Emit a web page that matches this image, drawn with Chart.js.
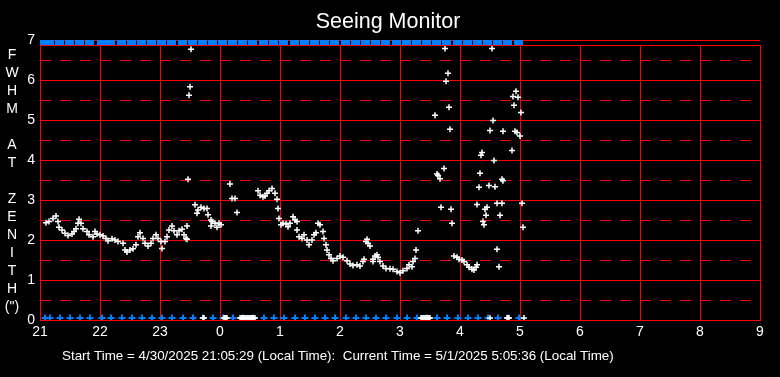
<!DOCTYPE html>
<html><head><meta charset="utf-8">
<script src="https://cdn.jsdelivr.net/npm/chart.js@4"></script>
<style>html,body{margin:0;padding:0;background:#000;overflow:hidden}</style>
</head><body>
<canvas id="c" width="780" height="377"></canvas>
<script>
const chartTitle = 'Seeing Monitor';
const yAxisLetters = ['F','W','H','M','','A','T','','Z','E','N','I','T','H','(")'];
const footerText = 'Start Time = 4/30/2025 21:05:29 (Local Time):  Current Time = 5/1/2025 5:05:36 (Local Time)';
const xTickHours = [21,22,23,24,25,26,27,28,29,30,31,32,33];
const xTickLabels = ['21','22','23','0','1','2','3','4','5','6','7','8','9'];
const yMajorTicks = [0,1,2,3,4,5,6,7];
const yMinorTicks = [0.5,1.5,2.5,3.5,4.5,5.5,6.5];

const fwhmTimes = ['21:06','21:09','21:13','21:16','21:18','21:19','21:22','21:25','21:28','21:32','21:34','21:36','21:38','21:39','21:41','21:43','21:47','21:49','21:53','21:55','21:57','22:00','22:03','22:06','22:08','22:12','22:15','22:18','22:23','22:25','22:27','22:30','22:33','22:36','22:38','22:40','22:43','22:45','22:48','22:51','22:53','22:56','22:58','23:01','23:02','23:05','23:07','23:09','23:12','23:14','23:17','23:19','23:22','23:24','23:26','23:27','23:27','23:28','23:29','23:30','23:31','23:35','23:37','23:38','23:41','23:44','23:47','23:48','23:51','23:51','23:52','23:55','23:57','23:59','00:01','00:10','00:12','00:15','00:17','00:38','00:40','00:43','00:45','00:47','00:49','00:52','00:55','00:57','00:58','00:59','01:01','01:03','01:06','01:08','01:10','01:13','01:15','01:17','01:17','01:19','01:22','01:24','01:27','01:29','01:32','01:34','01:36','01:38','01:40','01:43','01:44','01:46','01:47','01:49','01:51','01:53','01:57','02:00','02:03','02:07','02:10','02:13','02:17','02:20','02:23','02:24','02:26','02:27','02:28','02:30','02:33','02:33','02:35','02:37','02:38','02:40','02:43','02:46','02:50','02:53','02:57','03:00','03:03','03:07','03:09','03:12','03:13','03:15','03:16','03:18','03:35','03:37','03:38','03:40','03:41','03:44','03:45','03:46','03:48','03:49','03:50','03:51','03:52','03:54','03:57','03:59','04:02','04:04','04:07','04:09','04:12','04:14','04:16','04:17','04:17','04:19','04:20','04:21','04:22','04:23','04:24','04:25','04:26','04:27','04:29','04:30','04:32','04:33','04:34','04:35','04:37','04:37','04:39','04:40','04:42','04:42','04:43','04:43','04:52','04:53','04:54','04:55','04:56','04:57','04:58','05:00','05:01','05:02','05:03'];
const fwhmValues = [2.43,2.46,2.54,2.60,2.46,2.32,2.25,2.17,2.11,2.15,2.21,2.28,2.42,2.52,2.42,2.28,2.21,2.13,2.08,2.21,2.15,2.13,2.10,2.04,1.98,2.03,2.00,1.96,1.92,1.75,1.70,1.75,1.78,1.88,2.08,2.18,2.04,1.92,1.85,1.92,2.04,2.13,2.04,1.96,1.79,1.96,2.08,2.25,2.35,2.23,2.13,2.23,2.27,2.13,2.04,2.02,2.35,3.52,5.62,5.83,6.77,2.88,2.67,2.75,2.82,2.79,2.79,2.63,2.50,2.35,2.46,2.42,2.32,2.42,2.38,3.40,3.04,3.04,2.69,3.23,3.12,3.08,3.10,3.17,3.23,3.29,3.17,3.02,2.79,2.54,2.38,2.42,2.40,2.33,2.42,2.58,2.50,2.46,2.25,2.08,2.04,2.13,2.00,1.88,2.00,2.13,2.18,2.42,2.38,2.21,2.04,1.88,1.75,1.63,1.54,1.48,1.54,1.60,1.57,1.48,1.40,1.36,1.38,1.35,1.46,1.52,1.96,2.02,1.92,1.85,1.46,1.52,1.60,1.63,1.57,1.46,1.35,1.29,1.28,1.27,1.21,1.18,1.23,1.29,1.38,1.33,1.46,1.54,1.75,2.23,5.12,3.65,3.61,3.53,2.82,3.79,6.79,5.97,6.17,5.32,4.77,2.77,2.42,1.60,1.57,1.52,1.50,1.46,1.38,1.32,1.27,1.25,1.32,1.38,2.89,3.32,3.67,4.12,4.19,2.46,2.38,2.77,2.62,2.82,3.36,4.74,6.79,4.99,3.99,3.33,2.92,1.77,1.33,2.62,2.92,3.52,3.48,4.72,4.24,5.59,5.37,4.72,5.72,4.69,5.57,4.60,5.19,2.92,2.32];

const zeroTimes = ['23:43','23:44','00:04','00:05','00:06','00:07','00:20','00:21','00:22','00:23','00:24','00:25','00:26','00:27','00:28','00:29','00:30','00:31','00:32','00:33','00:34','00:35','03:21','03:22','03:23','03:24','03:25','03:26','03:27','03:28','03:29','03:30','04:30','04:47','04:48','04:49','05:04'];
const zeroValue = 0.05;

const statusTimes = ['21:05','21:10','21:20','21:30','21:40','21:50','22:02','22:11','22:22','22:32','22:42','22:52','23:02','23:12','23:23','23:33','23:43','23:53','00:03','00:13','00:23','00:33','00:44','00:54','01:04','01:15','01:25','01:35','01:45','01:55','02:06','02:16','02:26','02:36','02:46','02:57','03:07','03:17','03:27','03:37','03:47','03:58','04:08','04:18','04:28','04:38','04:48','04:59'];
const statusLowValue = 0.05;
const statusHighValue = 6.94;

function toHour(s){ const p = s.split(':').map(Number); let v = p[0] + p[1]/60; if (v < 12) v += 24; return v; }

const RED = '#ff0000', BLUE = 'rgb(0,128,255)', WHITE = '#ffffff';
const FONT = "'Liberation Sans', Arial, sans-serif";
Chart.defaults.font.family = FONT;

const barImg = document.createElement('canvas');
barImg.width = 10; barImg.height = 5;
{ const g = barImg.getContext('2d'); g.fillStyle = BLUE; g.fillRect(0,0,9,5); }

const decor = {
  id: 'decor',
  beforeDatasetsDraw(chart){
    const ctx = chart.ctx, a = chart.chartArea, ys = chart.scales.y;
    ctx.save();
    ctx.strokeStyle = RED; ctx.lineWidth = 1; ctx.setLineDash([11, 9]);
    yMinorTicks.forEach(v => {
      const y = Math.round(ys.getPixelForValue(v)) + 0.5;
      ctx.beginPath(); ctx.moveTo(a.left, y); ctx.lineTo(a.right, y); ctx.stroke();
    });
    ctx.restore();
  },
  afterDatasetsDraw(chart){
    const ctx = chart.ctx, a = chart.chartArea;
    ctx.save();
    ctx.strokeStyle = RED; ctx.lineWidth = 1;
    ctx.beginPath(); ctx.moveTo(a.left, Math.round(a.top)+0.5); ctx.lineTo(a.right+1, Math.round(a.top)+0.5); ctx.stroke();
    ctx.restore();
  },
  afterDraw(chart){
    const ctx = chart.ctx;
    ctx.save();
    ctx.fillStyle = WHITE;
    ctx.textBaseline = 'alphabetic';
    ctx.textAlign = 'center';
    ctx.font = '21.5px ' + FONT;
    ctx.fillText(chartTitle, 388, 28);
    ctx.font = '14px ' + FONT;
    yAxisLetters.forEach((ch, i) => { if (ch) ctx.fillText(ch, 12, 59 + i*18); });
    ctx.textAlign = 'left';
    ctx.font = '13.4px ' + FONT;
    ctx.fillText(footerText, 62, 360);
    ctx.restore();
  }
};

new Chart(document.getElementById('c'), {
  type: 'scatter',
  data: {
    datasets: [
      { data: fwhmTimes.map((t,i)=>({x: toHour(t), y: fwhmValues[i]})), pointStyle: 'cross', pointRadius: 3, pointBorderWidth: 1.5, borderColor: WHITE, backgroundColor: WHITE },
      { data: zeroTimes.map(t=>({x: toHour(t), y: zeroValue})), pointStyle: 'cross', pointRadius: 3, pointBorderWidth: 1.5, borderColor: WHITE, backgroundColor: WHITE },
      { data: statusTimes.map(t=>({x: toHour(t), y: statusLowValue})), pointStyle: 'cross', pointRadius: 3.5, pointBorderWidth: 2, borderColor: BLUE, backgroundColor: BLUE },
      { data: statusTimes.map(t=>({x: toHour(t), y: statusHighValue})), pointStyle: barImg, pointRadius: 5, clip: false, borderColor: BLUE, backgroundColor: BLUE }
    ]
  },
  options: {
    responsive: false, animation: false, devicePixelRatio: 1, events: [],
    layout: { padding: { left: 0, right: 20, top: 45, bottom: 0 } },
    plugins: { legend: { display: false }, tooltip: { enabled: false }, title: { display: false } },
    scales: {
      x: {
        type: 'linear', min: 21, max: 33,
        afterBuildTicks: s => { s.ticks = xTickHours.map(v => ({ value: v })); },
        afterFit: s => { s.height = 57; },
        ticks: { color: WHITE, font: { size: 14 }, maxRotation: 0, autoSkip: false, padding: 4,
          callback: v => xTickLabels[xTickHours.indexOf(v)] },
        grid: { color: RED, lineWidth: 1, drawTicks: false },
        border: { color: RED, width: 1 }
      },
      y: {
        type: 'linear', min: 0, max: 6.875,
        afterBuildTicks: s => { s.ticks = yMajorTicks.concat(yMinorTicks).sort((a,b)=>a-b).map(v => ({ value: v })); },
        afterFit: s => { s.width = 40; },
        ticks: { color: WHITE, font: { size: 14 }, padding: 5,
          callback: v => yMajorTicks.includes(v) ? String(v) : '' },
        grid: { color: c => (c.tick && Number.isInteger(c.tick.value)) ? RED : 'rgba(0,0,0,0)', lineWidth: 1, drawTicks: false },
        border: { color: RED, width: 1 }
      }
    }
  },
  plugins: [decor]
});
</script>
</body></html>
